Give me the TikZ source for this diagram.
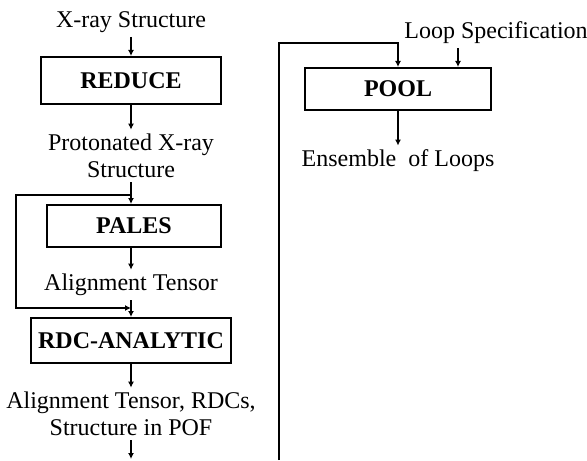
\documentclass[tikz,border=0pt]{standalone}
\usepackage{fontspec}
\setmainfont{Liberation Serif}
\usetikzlibrary{arrows.meta,positioning}
\tikzstyle{texto}=[align=center,inner sep=2pt,font=\fontsize{12}{13.5}\selectfont]
\tikzstyle{programa}=[rectangle,draw=black,line width=1pt,font=\fontsize{12}{14}\selectfont\bfseries]
\tikzstyle{flujo}=[->,line width=1pt]
\begin{document}
\begin{tikzpicture}[>={Latex[length=3pt,width=3pt]},x=0.5pt,y=-0.5pt]
	\useasboundingbox (0,0) rectangle (587,460);
	% columna izquierda
	\node[texto](xray) at (131,22){X-ray Structure};
	\node[programa,minimum width=90pt,minimum height=23.5pt](reduce) at (131,80.5){REDUCE};
	\node[texto](proto) at (131,156){Protonated X-ray\\Structure};
	\node[programa,minimum width=87pt,minimum height=21pt](pales) at (134,226){PALES};
	\node[texto](tensor) at (131,285){Alignment Tensor};
	\node[programa,minimum width=98pt,minimum height=22.5pt](rdc) at (131,340.5){RDC-ANALYTIC};
	\node[texto](salida) at (131,414){Alignment Tensor, RDCs,\\Structure in POF};
	\coordinate (fin) at (131,459);
	\coordinate (bifurca) at (131,195);
	\coordinate (union) at (131,308);
	\draw[flujo](xray.south)--(reduce.north);
	\draw[flujo](reduce.south)--(proto.north);
	\draw[flujo](proto.south)--(proto.south |- pales.north);
	\draw[flujo](bifurca)-- ++(-115,0) |- (union);
	\draw[flujo](tensor.south |- pales.south)--(tensor.north);
	\draw[flujo](tensor.south)--(rdc.north);
	\draw[flujo](rdc.south)--(salida.north);
	\draw[flujo](salida.south)--(fin);
	% columna derecha
	\node[texto](spec) at (496,33){Loop Specification};
	\node[programa,minimum width=93pt,minimum height=21pt](pool) at (398,89){POOL};
	\node[texto](ensemble) at (398,161){Ensemble~ of Loops};
	\coordinate (cola) at (279,460);
	\coordinate (entrada) at ([xshift=-19pt]spec.south);
	\draw[flujo](cola)-- ++(0,-417) -| (pool.north);
	\draw[flujo](entrada)--(entrada |- pool.north);
	\draw[flujo](pool.south)--(ensemble.north);
\end{tikzpicture}
\end{document}
